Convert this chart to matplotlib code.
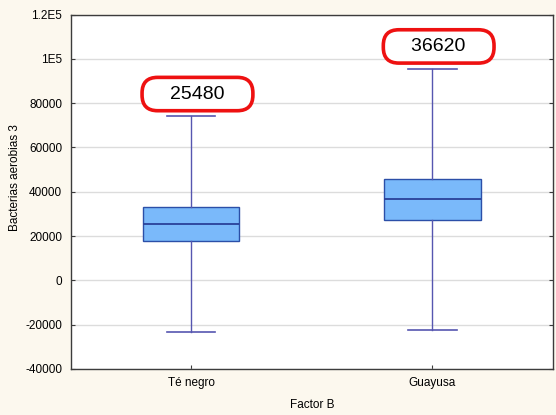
import matplotlib
matplotlib.use("Agg")
import matplotlib.pyplot as plt
from matplotlib.ticker import FixedLocator, FuncFormatter

# values (Statistica-style box plot)
categories = ["Té negro", "Guayusa"]
centers = [25480, 36620]
box_low = [17700, 27100]
box_high = [33250, 45700]
whisker_low = [-23100, -22600]
whisker_high = [74100, 95600]
callouts = ["25480", "36620"]

y_ticks = [-40000, -20000, 0, 20000, 40000, 60000, 80000, 100000, 120000]
y_tick_labels = ["-40000", "-20000", "0", "20000", "40000", "60000", "80000", "1E5", "1.2E5"]

plt.rcParams["font.family"] = ["Liberation Sans", "DejaVu Sans"]

BG = "#fcf8ee"
fig = plt.figure(figsize=(5.56, 4.15), dpi=100, facecolor=BG)
ax = fig.add_axes((0.127, 0.111, 0.8676, 0.854))
ax.set_facecolor("white")

stats = []
for name, c, lo, hi, wlo, whi in zip(categories, centers, box_low, box_high, whisker_low, whisker_high):
    stats.append({"label": name, "med": c, "q1": lo, "q3": hi, "whislo": wlo, "whishi": whi, "fliers": []})

ax.bxp(
    stats,
    positions=range(len(categories)),
    widths=0.40,
    capwidths=0.20,
    patch_artist=True,
    showfliers=False,
    boxprops=dict(facecolor="#7ab9fa", edgecolor="#2b4fa8", linewidth=1.0),
    medianprops=dict(color="#2a4199", linewidth=1.3),
    whiskerprops=dict(color="#5656b0", linewidth=1.0),
    capprops=dict(color="#5656b0", linewidth=1.2),
    zorder=3,
)

pad = "   \u2009"
for i, (text, whi) in enumerate(zip(callouts, whisker_high)):
    ax.text(
        i + 0.026, whi + 10000, pad + text + pad,
        ha="center", va="center", fontsize=14, color="black", zorder=5,
        bbox=dict(boxstyle="round,pad=0.42,rounding_size=0.8", facecolor="white",
                  edgecolor="#ee1111", linewidth=2.6),
    )

ax.set_xlim(-0.5, 1.5)
ax.set_ylim(-40000, 120000)
ax.yaxis.set_major_locator(FixedLocator(y_ticks))
ax.yaxis.set_major_formatter(FuncFormatter(lambda v, pos: y_tick_labels[y_ticks.index(int(round(v)))]))
ax.set_xticks(range(len(categories)))
ax.set_xticklabels(categories)

ax.grid(axis="y", color="#dcdcdc", linewidth=1.0, zorder=0)
ax.set_axisbelow(True)
for spine in ax.spines.values():
    spine.set_color("#3c3c3c")
    spine.set_linewidth(1.0)

ax.tick_params(axis="y", direction="in", length=3, color="#3c3c3c", labelsize=8.5, pad=6,
               left=True, right=True)
ax.tick_params(axis="x", direction="in", length=3, color="#3c3c3c", labelsize=8.5, pad=6)

ax.set_ylabel("Bacterias aerobias 3", fontsize=8.5)
ax.yaxis.set_label_coords(-0.102, 0.54)
ax.set_xlabel("Factor B", fontsize=8.5, labelpad=7)

fig.savefig("out.png", dpi=100, facecolor=BG)
